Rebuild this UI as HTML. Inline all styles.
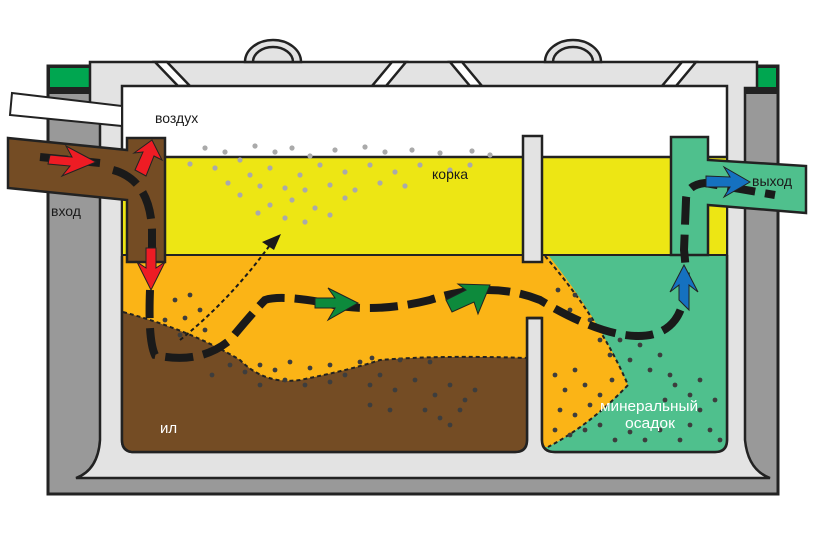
<!DOCTYPE html>
<html><head><meta charset="utf-8"><style>
body{margin:0;background:#fff}
svg{display:block}
text{font-family:"Liberation Sans","DejaVu Sans",sans-serif}
</style></head><body>
<svg width="817" height="540" viewBox="0 0 817 540" xmlns="http://www.w3.org/2000/svg">
<rect x="48" y="66" width="730" height="428" fill="#999" stroke="#222" stroke-width="3"/>
<rect x="49" y="67" width="41" height="21" fill="#00a650" stroke="#222" stroke-width="2"/>
<rect x="757" y="67" width="20" height="21" fill="#00a650" stroke="#222" stroke-width="2"/>
<rect x="48" y="88" width="52" height="6" fill="#222"/>
<rect x="745" y="88" width="33" height="6" fill="#222"/>
<path d="M90,62 H757 V88 H745 V440 Q748,470 770,478 H76 Q98,470 100,440 V105 H90 Z" fill="#e3e3e3" stroke="#222" stroke-width="2.5"/>
<path d="M245,62 A28,22 0 0 1 301,62 Z M253,62 A20,15 0 0 1 293,62" fill="#e3e3e3" stroke="#222" stroke-width="2.5"/>
<path d="M545,62 A28,22 0 0 1 601,62 Z M553,62 A20,15 0 0 1 593,62" fill="#e3e3e3" stroke="#222" stroke-width="2.5"/>
<g fill="#fff" stroke="#222" stroke-width="2.5">
<path d="M155,62 H167 L190,86 H178 Z"/>
<path d="M392,62 H406 L386,86 H372 Z"/>
<path d="M450,62 H462 L482,86 H470 Z"/>
<path d="M682,62 H696 L676,86 H662 Z"/>
</g>
<path d="M122,86 H727 V440 Q727,452 715,452 H555 Q542,452 542,440 V318 H527 V440 Q527,452 515,452 H134 Q122,452 122,440 Z" fill="#fff" stroke="#222" stroke-width="2.5"/>
<rect x="123" y="157" width="603" height="98" fill="#ede614"/>
<line x1="122" y1="157" x2="727" y2="157" stroke="#222" stroke-width="2.5"/>
<line x1="122" y1="255" x2="727" y2="255" stroke="#222" stroke-width="2"/>
<path d="M123,256 H527 V440 Q527,451 515,451 H134 Q123,451 123,440 Z" fill="#fbb416"/>
<path d="M123,312 Q190,330 240,360 Q265,385 300,380 Q350,370 380,360 Q440,355 527,358 V440 Q527,451 515,451 H134 Q123,451 123,440 Z" fill="#744c24"/>
<path d="M123,312 Q190,330 240,360 Q265,385 300,380 Q350,370 380,360 Q440,355 527,358" fill="none" stroke="#222" stroke-width="2" stroke-dasharray="4,3"/>
<path d="M542,256 H726 V440 Q726,451 715,451 H555 Q543,451 543,440 Z" fill="#4fc08d"/>
<path d="M526,256 H549 Q600,320 628,385 Q590,425 548,447 H543 V318 H526 Z" fill="#fbb416"/>
<path d="M545,256 Q600,320 628,385 Q590,425 548,447" fill="none" stroke="#222" stroke-width="2" stroke-dasharray="4,3"/>
<path d="M122,256 V440 Q122,452 134,452 H515 Q527,452 527,440 V318 H542 V440 Q542,452 555,452 H715 Q727,452 727,440 V255" fill="none" stroke="#222" stroke-width="2.5"/>
<rect x="523" y="136" width="19" height="126" fill="#e3e3e3" stroke="#222" stroke-width="2.5"/>
<line x1="527" y1="318" x2="542" y2="318" stroke="#222" stroke-width="2.5"/>
<g fill="#aaa">
<circle cx="205" cy="148" r="2.6"/><circle cx="225" cy="152" r="2.6"/><circle cx="255" cy="146" r="2.6"/><circle cx="275" cy="152" r="2.6"/><circle cx="292" cy="148" r="2.6"/><circle cx="310" cy="156" r="2.6"/><circle cx="335" cy="150" r="2.6"/><circle cx="365" cy="147" r="2.6"/><circle cx="385" cy="152" r="2.6"/><circle cx="412" cy="150" r="2.6"/><circle cx="440" cy="153" r="2.6"/><circle cx="472" cy="151" r="2.6"/><circle cx="490" cy="155" r="2.6"/>
<circle cx="190" cy="164" r="2.6"/><circle cx="215" cy="168" r="2.6"/><circle cx="240" cy="160" r="2.6"/><circle cx="250" cy="175" r="2.6"/><circle cx="270" cy="168" r="2.6"/><circle cx="300" cy="175" r="2.6"/><circle cx="320" cy="165" r="2.6"/><circle cx="345" cy="172" r="2.6"/><circle cx="370" cy="165" r="2.6"/><circle cx="395" cy="172" r="2.6"/><circle cx="420" cy="165" r="2.6"/><circle cx="450" cy="170" r="2.6"/><circle cx="470" cy="165" r="2.6"/>
<circle cx="228" cy="183" r="2.6"/><circle cx="260" cy="186" r="2.6"/><circle cx="285" cy="188" r="2.6"/><circle cx="305" cy="190" r="2.6"/><circle cx="330" cy="185" r="2.6"/><circle cx="355" cy="190" r="2.6"/><circle cx="380" cy="183" r="2.6"/><circle cx="405" cy="186" r="2.6"/><circle cx="240" cy="195" r="2.6"/><circle cx="270" cy="205" r="2.6"/><circle cx="292" cy="200" r="2.6"/><circle cx="315" cy="208" r="2.6"/><circle cx="345" cy="198" r="2.6"/><circle cx="258" cy="213" r="2.6"/><circle cx="285" cy="218" r="2.6"/><circle cx="305" cy="222" r="2.6"/><circle cx="330" cy="215" r="2.6"/>
</g>
<g fill="#3d3d3d">
<circle cx="175" cy="300" r="2.4"/><circle cx="190" cy="295" r="2.4"/><circle cx="165" cy="320" r="2.4"/><circle cx="185" cy="318" r="2.4"/><circle cx="200" cy="310" r="2.4"/><circle cx="180" cy="335" r="2.4"/><circle cx="205" cy="330" r="2.4"/><circle cx="210" cy="350" r="2.4"/><circle cx="225" cy="345" r="2.4"/><circle cx="212" cy="375" r="2.4"/><circle cx="230" cy="365" r="2.4"/><circle cx="245" cy="372" r="2.4"/><circle cx="260" cy="365" r="2.4"/><circle cx="275" cy="370" r="2.4"/><circle cx="290" cy="362" r="2.4"/><circle cx="310" cy="368" r="2.4"/><circle cx="330" cy="365" r="2.4"/><circle cx="360" cy="362" r="2.4"/><circle cx="372" cy="358" r="2.4"/><circle cx="400" cy="360" r="2.4"/><circle cx="430" cy="362" r="2.4"/><circle cx="260" cy="385" r="2.4"/><circle cx="285" cy="380" r="2.4"/><circle cx="305" cy="385" r="2.4"/><circle cx="330" cy="382" r="2.4"/><circle cx="345" cy="375" r="2.4"/><circle cx="370" cy="385" r="2.4"/><circle cx="380" cy="375" r="2.4"/><circle cx="395" cy="390" r="2.4"/><circle cx="415" cy="380" r="2.4"/><circle cx="435" cy="395" r="2.4"/><circle cx="450" cy="385" r="2.4"/><circle cx="465" cy="400" r="2.4"/><circle cx="475" cy="390" r="2.4"/><circle cx="370" cy="405" r="2.4"/><circle cx="390" cy="410" r="2.4"/><circle cx="425" cy="410" r="2.4"/><circle cx="440" cy="418" r="2.4"/><circle cx="460" cy="410" r="2.4"/><circle cx="450" cy="425" r="2.4"/>
<circle cx="558" cy="290" r="2.4"/><circle cx="570" cy="310" r="2.4"/><circle cx="575" cy="295" r="2.4"/><circle cx="590" cy="320" r="2.4"/><circle cx="600" cy="340" r="2.4"/><circle cx="610" cy="355" r="2.4"/><circle cx="620" cy="340" r="2.4"/><circle cx="630" cy="360" r="2.4"/><circle cx="640" cy="345" r="2.4"/><circle cx="650" cy="370" r="2.4"/><circle cx="660" cy="355" r="2.4"/><circle cx="670" cy="375" r="2.4"/><circle cx="555" cy="375" r="2.4"/><circle cx="565" cy="390" r="2.4"/><circle cx="575" cy="370" r="2.4"/><circle cx="585" cy="385" r="2.4"/><circle cx="560" cy="410" r="2.4"/><circle cx="575" cy="415" r="2.4"/><circle cx="590" cy="405" r="2.4"/><circle cx="555" cy="430" r="2.4"/><circle cx="570" cy="435" r="2.4"/><circle cx="585" cy="430" r="2.4"/><circle cx="600" cy="395" r="2.4"/><circle cx="612" cy="380" r="2.4"/><circle cx="600" cy="425" r="2.4"/><circle cx="615" cy="440" r="2.4"/><circle cx="630" cy="432" r="2.4"/><circle cx="645" cy="440" r="2.4"/><circle cx="660" cy="430" r="2.4"/><circle cx="680" cy="440" r="2.4"/><circle cx="690" cy="425" r="2.4"/><circle cx="700" cy="410" r="2.4"/><circle cx="710" cy="430" r="2.4"/><circle cx="715" cy="400" r="2.4"/><circle cx="690" cy="395" r="2.4"/><circle cx="675" cy="385" r="2.4"/><circle cx="700" cy="380" r="2.4"/><circle cx="665" cy="400" r="2.4"/><circle cx="720" cy="440" r="2.4"/>
</g>
<path d="M12,93 L122,106 V126 L10,115 Z" fill="#fff" stroke="#222" stroke-width="2"/>
<path d="M8,138 L127,150 V138 H165 V262 H127 V200 L8,188 Z" fill="#744c24" stroke="#222" stroke-width="2.5"/>
<path d="M671,137 H708 V160 L806,166 V213 L708,205 V255 H671 Z" fill="#4fc08d" stroke="#222" stroke-width="2.5"/>
<g fill="none" stroke="#1a1a1a" stroke-width="8" stroke-dasharray="28,10">
<path d="M40,157 L100,163"/>
<path d="M113,170 Q150,180 152,230 L152,255"/>
<path d="M150,290 Q148,340 155,355 Q200,365 230,340 Q255,310 265,300 Q280,295 320,302 Q370,315 430,300 Q490,280 540,300 Q590,330 625,335 Q660,340 675,320 Q690,300 684,250 L686,200 Q686,185 705,183 L775,195"/>
</g>
<path d="M180,340 Q230,300 270,245" fill="none" stroke="#1a1a1a" stroke-width="2" stroke-dasharray="4,3"/>
<path d="M281,234 L262,242 L274,250 Z" fill="#1a1a1a"/>
<g stroke="#222" stroke-width="1">
<path d="M50,155 L72,157 L66,146 L96,162 L62,176 L70,166 L48,164 Z" fill="#ee1c24"/>
<path d="M135,170 L143,152 L134,153 L152,140 L162,160 L154,156 L146,176 Z" fill="#ee1c24"/>
<path d="M146,248 H156 V268 L165,262 L151,290 L137,262 L146,268 Z" fill="#ee1c24"/>
<path d="M315,298 L335,298 L328,288 L358,303 L328,320 L335,308 L315,308 Z" fill="#0d8a3c"/>
<path d="M446,300 L466,290 L458,284 L490,285 L478,314 L474,302 L452,312 Z" fill="#0d8a3c"/>
<path d="M679,300 V285 L670,292 L684,265 L698,292 L689,285 V310 Z" fill="#1571c0"/>
<path d="M706,176 L730,177 L724,167 L750,182 L724,197 L730,187 L706,187 Z" fill="#1571c0"/>
</g>
<text x="155" y="123" font-size="14" fill="#1a1a1a">воздух</text>
<text x="432" y="179" font-size="14" fill="#1a1a1a">корка</text>
<text x="51" y="216" font-size="14" fill="#1a1a1a">вход</text>
<text x="752" y="186" font-size="14" fill="#1a1a1a">выход</text>
<text x="160" y="433" font-size="15" fill="#fff">ил</text>
<text x="600" y="411" font-size="15" fill="#fff" textLength="98" lengthAdjust="spacingAndGlyphs">минеральный</text>
<text x="625" y="428" font-size="15" fill="#fff" textLength="50" lengthAdjust="spacingAndGlyphs">осадок</text>
</svg>
</body></html>
